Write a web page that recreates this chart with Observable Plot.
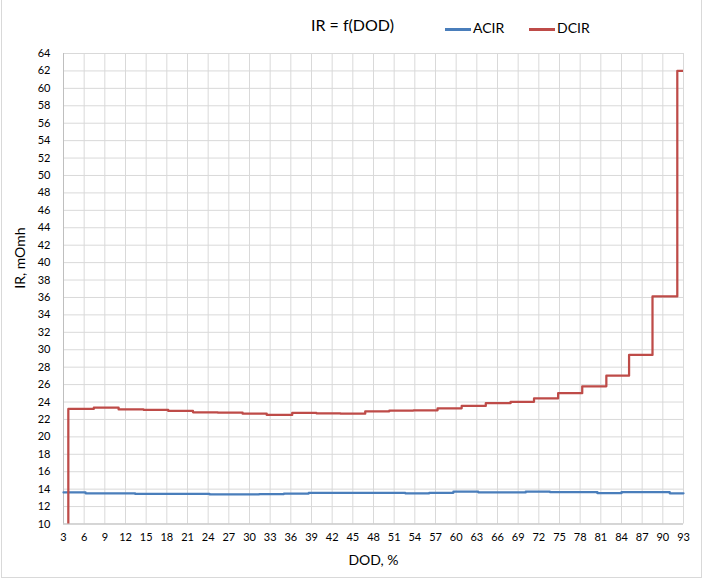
<!DOCTYPE html>
<html><head><meta charset="utf-8">
<script src="https://cdn.jsdelivr.net/npm/d3@7"></script>
<script src="https://cdn.jsdelivr.net/npm/@observablehq/plot@0.6"></script>
<style>
body{margin:0;background:#fff;}
#chart{position:relative;width:705px;height:581px;overflow:hidden;font-family:Lato,"Open Sans",sans-serif;color:#000;background:#fff}
#frame{position:absolute;left:1px;top:-2px;width:699px;height:578px;border:1px solid #d9d9d9;pointer-events:none}
#head{position:relative;height:45px;}
#title{position:absolute;left:311px;top:15px;font-size:16px;}
.leg{position:absolute;top:19px;font-size:14px}
.sw{position:absolute;height:3px;top:28px;width:26px}
</style></head>
<body>
<div id="chart">
  <div id="head">
    <div id="title">IR = f(DOD)</div>
    <div class="sw" style="left:445px;background:#4a7ebb"></div>
    <div class="leg" style="left:473px">ACIR</div>
    <div class="sw" style="left:529px;background:#be4b48"></div>
    <div class="leg" style="left:557px">DCIR</div>
  </div>
  <div id="plot"></div>
  <div id="frame"></div>
</div>
<script>
// DOD tick labels and IR tick labels
const xTicks = d3.range(3, 94, 3);
const yTicks = d3.range(10, 65, 2);

// ACIR: step start (DOD, %) and level (mOhm)
const acirDod = [3.0, 6.2, 9.8, 13.4, 17.1, 20.7, 24.2, 27.8, 31.4, 35.0, 38.6, 42.1, 45.7, 49.1, 52.6, 56.1, 59.6, 63.2, 66.7, 70.1, 73.6, 77.1, 80.5, 84.0, 87.5, 91.0, 93.0];
const acirIR  = [13.62, 13.52, 13.52, 13.45, 13.45, 13.45, 13.40, 13.40, 13.43, 13.50, 13.58, 13.57, 13.56, 13.58, 13.52, 13.58, 13.72, 13.63, 13.62, 13.73, 13.66, 13.66, 13.54, 13.66, 13.66, 13.52, 13.52];

// DCIR: step start (DOD, %) and level (mOhm); first value lies below the axis
const dcirDod = [3.7, 3.7, 7.4, 11.0, 14.6, 18.2, 21.8, 25.4, 29.0, 32.5, 36.2, 39.7, 43.2, 46.8, 50.3, 53.8, 57.3, 60.8, 64.3, 67.9, 71.3, 74.8, 78.3, 81.8, 85.1, 88.5, 92.1, 93.0];
const dcirIR  = [0, 23.20, 23.35, 23.15, 23.10, 22.98, 22.82, 22.78, 22.66, 22.52, 22.75, 22.70, 22.66, 22.94, 23.02, 23.05, 23.28, 23.55, 23.87, 24.03, 24.41, 25.02, 25.80, 27.02, 29.40, 36.12, 62.00, 62.00];

const acir = acirDod.map((d, i) => ({dod: d, ir: acirIR[i]}));
const dcir = dcirDod.map((d, i) => ({dod: d, ir: dcirIR[i]}));

const chart = Plot.plot({
  width: 705, height: 536,
  marginTop: 8, marginBottom: 57.5, marginLeft: 63, marginRight: 22,
  style: {fontFamily: "Lato, 'Open Sans', sans-serif", fontSize: "11px", color: "#000", background: "#fff"},
  x: {domain: [3, 93]},
  y: {domain: [10, 64]},
  marks: [
    Plot.gridX(xTicks, {stroke: "#d9d9d9", strokeOpacity: 1}),
    Plot.gridY(yTicks, {stroke: "#d9d9d9", strokeOpacity: 1}),
    Plot.ruleY([10], {stroke: "#bfbfbf"}),
    Plot.ruleX([3], {stroke: "#bfbfbf"}),
    Plot.axisX(xTicks, {tickSize: 0, tickPadding: 9, label: null}),
    Plot.axisY(yTicks, {tickSize: 0, tickPadding: 13, label: null}),
    Plot.text(["DOD, %"], {frameAnchor: "bottom", dy: 37, lineAnchor: "middle", fontSize: 14}),
    Plot.text(["IR, mOmh"], {frameAnchor: "left", dx: -43, rotate: -90, fontSize: 14}),
    Plot.line(acir, {x: "dod", y: "ir", curve: "step-after", stroke: "#4a7ebb", strokeWidth: 2.25}),
    Plot.line(dcir, {x: "dod", y: "ir", curve: "step-after", stroke: "#be4b48", strokeWidth: 2.25, clip: true})
  ]
});
document.getElementById("plot").appendChild(chart);
</script>
</body></html>
